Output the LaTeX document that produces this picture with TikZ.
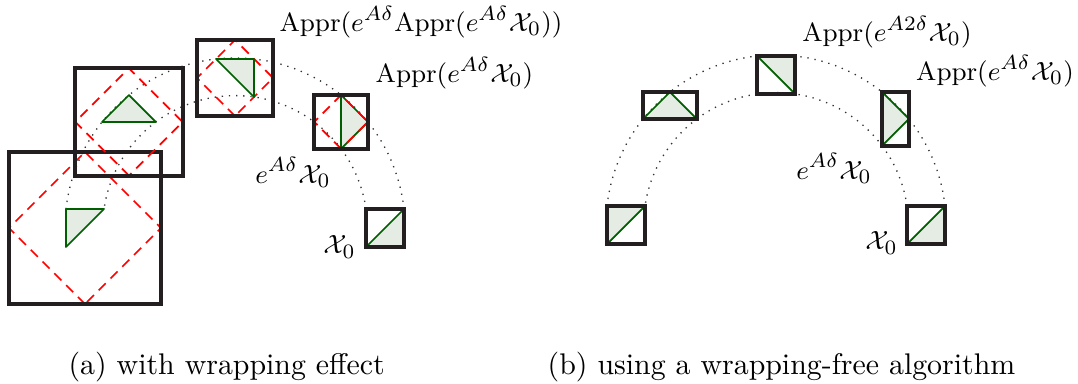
\documentclass[tikz,border=0pt]{standalone}
\usepackage{amsmath}
\definecolor{tfill}{RGB}{228,236,228}
\definecolor{tedge}{RGB}{0,95,0}
\definecolor{boxc}{RGB}{35,31,32}
\tikzset{
  tri/.style={draw=tedge, fill=tfill, line width=0.6pt, line join=round},
  apprbox/.style={draw=boxc, line width=1.3pt},
  rotbox/.style={draw=red, line width=0.6pt, dash pattern=on 3.4pt off 2.3pt},
  orbit/.style={dotted, line width=0.45pt, black!80},
  lbl/.style={inner sep=0pt, font=\fontsize{9.3}{11}\selectfont},
  captxt/.style={anchor=base, inner sep=0pt, font=\fontsize{10.2}{12}\selectfont},
}
\newcommand{\basetri}{(131,-19) -- (169,19) -- (169,-19) -- cycle}
\begin{document}
\begin{tikzpicture}[x=0.3415pt, y=0.3415pt]
\useasboundingbox (0,0) rectangle (1078,383);

% ---------- (a) with wrapping effect ----------
\begin{scope}[shift={(235,155)}]
  \coordinate (ca) at (0,0);
  \draw[orbit] (8.25:132.37) arc[start angle=8.25, end angle=171.75, radius=132.37];
  \draw[orbit] (6.41:170.06) arc[start angle=6.41, end angle=173.59, radius=170.06];
  % step 4
  \begin{scope}[rotate=45]
    \draw[rotbox] (-159.81,52.33) rectangle (-52.33,159.81);
  \end{scope}
  \begin{scope}[rotate=180]
    \filldraw[tri] \basetri;
  \end{scope}
  \draw[apprbox] (-226,-76) rectangle (-74,76);
  % step 3
  \begin{scope}[rotate=45]
    \draw[rotbox] (-38,112) rectangle (38,188);
  \end{scope}
  \begin{scope}[rotate=135]
    \filldraw[tri] \basetri;
  \end{scope}
  \draw[apprbox] (-159.81,52.33) rectangle (-52.33,159.81);
  % step 2
  \begin{scope}[rotate=45]
    \draw[rotbox] (79.2,79.2) rectangle (132.94,132.94);
  \end{scope}
  \begin{scope}[rotate=90]
    \filldraw[tri] \basetri;
  \end{scope}
  \draw[apprbox] (-38,112) rectangle (38,188);
  % step 1
  \begin{scope}[rotate=45]
    \filldraw[tri] \basetri;
    \draw[rotbox] (131,-19) rectangle (169,19);
  \end{scope}
  \draw[apprbox] (79.2,79.2) rectangle (132.94,132.94);
  % step 0
  \filldraw[tri] \basetri;
  \draw[apprbox] (131,-19) rectangle (169,19);
\end{scope}
\node[lbl] (la1) at (421,361) {$\mathrm{Appr}(e^{A\delta}\mathrm{Appr}(e^{A\delta}\mathcal{X}_0))$};
\node[lbl] (la2) at (454.5,310) {$\mathrm{Appr}(e^{A\delta}\mathcal{X}_0)$};
\node[lbl] (la3) at (293,210.5) {$e^{A\delta}\mathcal{X}_0$};
\node[lbl] (la4) at (339.5,136) {$\mathcal{X}_0$};
\node[captxt] (capa) at (226.7,9) {(a) with wrapping effect};

% ---------- (b) using a wrapping-free algorithm ----------
\begin{scope}[shift={(776,158)}]
  \coordinate (cb) at (0,0);
  \draw[orbit] (8.25:132.37) arc[start angle=8.25, end angle=171.75, radius=132.37];
  \draw[orbit] (6.41:170.06) arc[start angle=6.41, end angle=173.59, radius=170.06];
  \filldraw[tri] \basetri;
  \draw[apprbox] (131,-19) rectangle (169,19);
  \begin{scope}[rotate=45]\filldraw[tri] \basetri;\end{scope}
  \draw[apprbox] (106.07,79.2) rectangle (132.94,132.94);
  \begin{scope}[rotate=90]\filldraw[tri] \basetri;\end{scope}
  \draw[apprbox] (-19,131) rectangle (19,169);
  \begin{scope}[rotate=135]\filldraw[tri] \basetri;\end{scope}
  \draw[apprbox] (-132.94,106.07) rectangle (-79.2,132.94);
  \begin{scope}[rotate=180]\filldraw[tri] \basetri;\end{scope}
  \draw[apprbox] (-169,-19) rectangle (-131,19);
\end{scope}
\node[lbl] (lb1) at (887,351) {$\mathrm{Appr}(e^{A2\delta}\mathcal{X}_0)$};
\node[lbl] (lb2) at (995,312) {$\mathrm{Appr}(e^{A\delta}\mathcal{X}_0)$};
\node[lbl] (lb3) at (834,214.5) {$e^{A\delta}\mathcal{X}_0$};
\node[lbl] (lb4) at (881.5,140) {$\mathcal{X}_0$};
\node[captxt] (capb) at (781.5,9) {(b) using a wrapping-free algorithm};
\end{tikzpicture}
\end{document}
